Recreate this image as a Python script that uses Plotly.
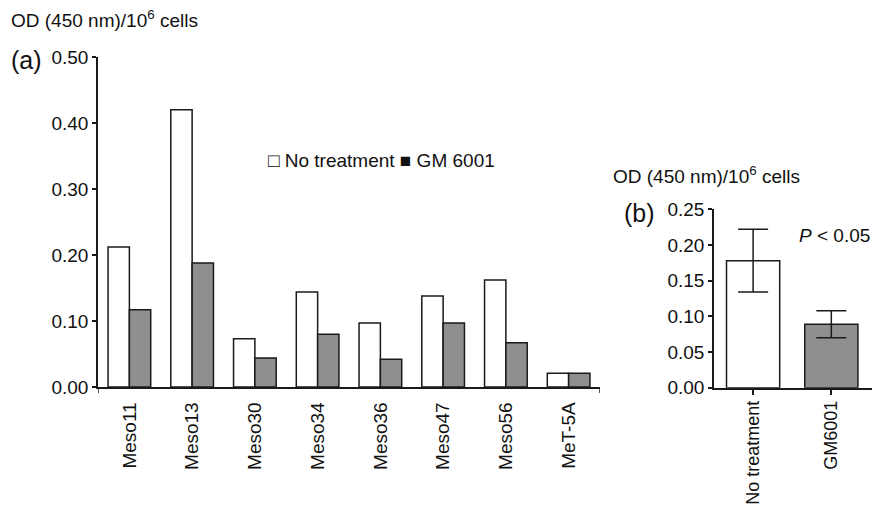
import plotly.graph_objects as go

# ---- data ----
cell_lines = ["Meso11", "Meso13", "Meso30", "Meso34", "Meso36", "Meso47", "Meso56", "MeT-5A"]
no_treatment = [0.212, 0.420, 0.073, 0.144, 0.097, 0.138, 0.162, 0.021]
gm6001 = [0.117, 0.188, 0.044, 0.080, 0.042, 0.097, 0.067, 0.021]

groups_b = ["No treatment", "GM6001"]
mean_b = [0.178, 0.089]
err_b = [0.044, 0.019]

y_ticks_a = [0.0, 0.1, 0.2, 0.3, 0.4, 0.5]
y_ticks_b = [0.0, 0.05, 0.10, 0.15, 0.20, 0.25]

# ---- style ----
W, H = 874, 511
FONT = "Liberation Sans, Arial, Helvetica, sans-serif"
GRAY = "#8f8f92"
LINE = "#1a1a1a"
TXT = "#111111"
FS = 19

def px_x(x):
    return x / W

def px_y(y):
    return 1 - y / H

fig = go.Figure()

fig.add_trace(go.Bar(
    x=cell_lines, y=no_treatment, name="No treatment",
    marker=dict(color="white", line=dict(color=LINE, width=1.5)),
    xaxis="x", yaxis="y", showlegend=False,
))
fig.add_trace(go.Bar(
    x=cell_lines, y=gm6001, name="GM 6001",
    marker=dict(color=GRAY, line=dict(color=LINE, width=1.5)),
    xaxis="x", yaxis="y", showlegend=False,
))

fig.add_trace(go.Bar(
    x=groups_b, y=mean_b,
    error_y=dict(type="data", array=err_b, visible=True, color=LINE, thickness=1.5, width=15),
    marker=dict(color=["white", GRAY], line=dict(color=LINE, width=1.5)),
    width=0.68,
    xaxis="x2", yaxis="y2", showlegend=False,
))

axis_common = dict(
    showline=True, linecolor=LINE, linewidth=1.5, showgrid=False, zeroline=False,
    tickfont=dict(family=FONT, size=FS, color=TXT), ticks="outside",
    tickcolor=LINE, tickwidth=1.5, automargin=False,
)

fig.update_layout(
    width=W, height=H,
    margin=dict(l=0, r=0, t=0, b=0, autoexpand=False),
    paper_bgcolor="white", plot_bgcolor="white",
    barmode="group", bargap=0.32, bargroupgap=0,
    xaxis=dict(
        **axis_common, domain=[px_x(98), px_x(600)], anchor="y",
        type="category", range=[-0.5, 7.5], tickangle=-90, ticklen=0,
        ticklabelstandoff=6,
    ),
    yaxis=dict(
        **axis_common, domain=[px_y(387), px_y(57)], anchor="x",
        range=[0, 0.5], tickvals=y_ticks_a, tickformat=".2f", ticklen=4,
    ),
    xaxis2=dict(
        **axis_common, domain=[px_x(714), px_x(872)], anchor="y2",
        type="category", range=[-0.5, 1.52], tickangle=-90, ticklen=6,
        ticklabelstandoff=-2,
    ),
    yaxis2=dict(
        **axis_common, domain=[px_y(387.7), px_y(209.3)], anchor="x2",
        range=[0, 0.25], tickvals=y_ticks_b, tickformat=".2f", ticklen=4,
    ),
    font=dict(family=FONT, color=TXT),
)
fig.update_layout(xaxis2_tickfont_size=18)

# end ticks on panel (a) x axis
for xv in [-0.5, 7.5]:
    fig.add_shape(type="line", xref="x", yref="y domain", x0=xv, x1=xv, y0=0, y1=-0.018,
                  line=dict(color=LINE, width=1.5))

def ann(text, x, y, size=FS, xanchor="left", **kw):
    fig.add_annotation(text=text, x=px_x(x), y=px_y(y), xref="paper", yref="paper",
                       xanchor=xanchor, yanchor="middle", showarrow=False,
                       font=dict(family=FONT, size=size, color=TXT), **kw)

ann("OD (450 nm)/10<sup>6</sup> cells", 9, 19, size=19)
ann("(a)", 9, 60, size=25)
ann("OD (450 nm)/10<sup>6</sup> cells", 611, 175, size=19)
ann("(b)", 622, 213, size=25)
ann("<i>P</i> < 0.05", 872, 235, size=FS, xanchor="right")
ann("□ No treatment ■ GM 6001", 266, 160, size=FS)

fig.write_html(
    "out.html",
    config={"displayModeBar": False},
    post_script="document.body.style.margin='0';document.body.style.overflow='hidden';",
)
